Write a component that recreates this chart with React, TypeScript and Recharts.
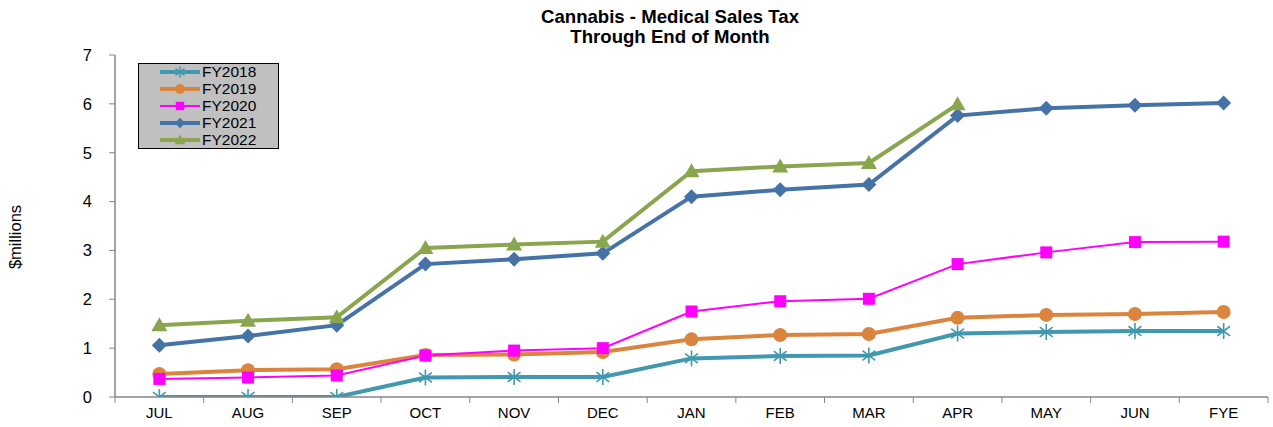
import React from 'react';
import { LineChart, Line, XAxis, YAxis } from 'recharts';

const months = ['JUL', 'AUG', 'SEP', 'OCT', 'NOV', 'DEC', 'JAN', 'FEB', 'MAR', 'APR', 'MAY', 'JUN', 'FYE'];
const fy2018 = [0, 0, 0, 0.4, 0.41, 0.41, 0.79, 0.84, 0.85, 1.3, 1.33, 1.35, 1.35];
const fy2019 = [0.47, 0.55, 0.57, 0.86, 0.87, 0.92, 1.18, 1.27, 1.29, 1.62, 1.68, 1.70, 1.74];
const fy2020 = [0.37, 0.40, 0.44, 0.85, 0.95, 1.0, 1.75, 1.96, 2.01, 2.72, 2.96, 3.17, 3.18];
const fy2021 = [1.06, 1.25, 1.47, 2.72, 2.82, 2.94, 4.10, 4.24, 4.35, 5.76, 5.91, 5.97, 6.02];
const fy2022 = [1.47, 1.56, 1.63, 3.05, 3.12, 3.18, 4.62, 4.72, 4.79, 5.99, null, null, null];
const yTicks = [0, 1, 2, 3, 4, 5, 6, 7];

const seriesDefs = [
  { key: 'FY2018', values: fy2018, color: '#4198AF', width: 4, shape: 'star' },
  { key: 'FY2019', values: fy2019, color: '#DB843D', width: 4, shape: 'circle' },
  { key: 'FY2020', values: fy2020, color: '#FF00FF', width: 2, shape: 'square' },
  { key: 'FY2021', values: fy2021, color: '#4572A7', width: 4, shape: 'diamond' },
  { key: 'FY2022', values: fy2022, color: '#89A54E', width: 4, shape: 'triangle' },
];

const data = months.map((m, i) => {
  const row: any = { month: m };
  seriesDefs.forEach((s) => { row[s.key] = s.values[i]; });
  return row;
});

const FONT = 'Arial, "Liberation Sans", sans-serif';
const W = 1273;
const H = 427;
const M = { top: 55, right: 5, bottom: 0, left: 75 };
const YW = 40;
const PLOT_W = W - M.left - M.right - YW;

function Marker({ shape, cx, cy, color, s = 1 }: any) {
  if (cx == null || cy == null || isNaN(cx) || isNaN(cy)) return null;
  switch (shape) {
    case 'star': {
      const r = 8 * s;
      const d = r * 0.8;
      return (
        <g stroke={color} strokeWidth={1.6}>
          <line x1={cx} y1={cy - r} x2={cx} y2={cy + r} />
          <line x1={cx - d} y1={cy - d * 0.75} x2={cx + d} y2={cy + d * 0.75} />
          <line x1={cx - d} y1={cy + d * 0.75} x2={cx + d} y2={cy - d * 0.75} />
        </g>
      );
    }
    case 'circle':
      return <circle cx={cx} cy={cy} r={7 * s} fill={color} />;
    case 'square':
      return <rect x={cx - 6 * s} y={cy - 6 * s} width={12 * s} height={12 * s} fill={color} />;
    case 'diamond': {
      const r = 7.5 * s;
      return <polygon points={`${cx},${cy - r} ${cx + r},${cy} ${cx},${cy + r} ${cx - r},${cy}`} fill={color} />;
    }
    case 'triangle': {
      const r = 8 * s;
      return <polygon points={`${cx},${cy - r} ${cx + r},${cy + r * 0.75} ${cx - r},${cy + r * 0.75}`} fill={color} />;
    }
    default:
      return null;
  }
}

const LegendBox = () => (
  <div
    style={{
      position: 'absolute',
      left: 138,
      top: 63,
      width: 141,
      height: 86,
      background: '#C0C0C0',
      border: '1px solid #000',
      boxSizing: 'border-box',
      fontFamily: FONT,
      fontSize: 15.5,
      color: '#000',
      paddingTop: 0,
    }}
  >
    {seriesDefs.map((s) => (
      <div key={s.key} style={{ display: 'flex', alignItems: 'center', height: 16.8 }}>
        <svg width={63} height={16} style={{ display: 'block', flex: 'none' }}>
          <line x1={21} y1={8} x2={61} y2={8} stroke={s.color} strokeWidth={s.width} />
          <Marker shape={s.shape} cx={41} cy={8} color={s.color} s={0.7} />
        </svg>
        <span style={{ lineHeight: '16px' }}>{s.key}</span>
      </div>
    ))}
  </div>
);

const step = PLOT_W / months.length;

const XTick = (props: any) => {
  const { x, y, payload, index } = props;
  const axisY = y - 8;
  return (
    <g>
      <line x1={x - step / 2} y1={axisY} x2={x - step / 2} y2={axisY + 6} stroke="#868686" strokeWidth={1} />
      {index === months.length - 1 && (
        <line x1={x + step / 2} y1={axisY} x2={x + step / 2} y2={axisY + 6} stroke="#868686" strokeWidth={1} />
      )}
      <text x={x} y={axisY + 21} textAnchor="middle" fontFamily={FONT} fontSize={15} fill="#000">
        {payload.value}
      </text>
    </g>
  );
};

export default function App() {
  return (
    <div style={{ position: 'absolute', left: 0, top: 0, width: W, height: H, background: '#fff' }}>
      <LineChart width={W} height={H} data={data} margin={M}>
        <text x={670} y={23} textAnchor="middle" fontFamily={FONT} fontSize={18.6} fontWeight="bold" fill="#000">
          Cannabis - Medical Sales Tax
        </text>
        <text x={670} y={43} textAnchor="middle" fontFamily={FONT} fontSize={18.6} fontWeight="bold" fill="#000">
          Through End of Month
        </text>
        <text
          x={21}
          y={237}
          textAnchor="middle"
          fontFamily={FONT}
          fontSize={16.5}
          fill="#000"
          transform="rotate(-90 21 237)"
        >
          $millions
        </text>
        <XAxis
          dataKey="month"
          scale="band"
          height={30}
          axisLine={{ stroke: '#868686', strokeWidth: 1.5 }}
          tickLine={false}
          tick={<XTick />}
          interval={0}
        />
        <YAxis
          width={YW}
          domain={[0, 7]}
          ticks={yTicks}
          allowDataOverflow
          axisLine={{ stroke: '#868686', strokeWidth: 1.5 }}
          tickLine={{ stroke: '#868686' }}
          tick={{ fontFamily: FONT, fontSize: 16.5, fill: '#000' }}
          tickSize={6}
          tickMargin={17}
        />
        {seriesDefs.map((s) => (
          <Line
            key={s.key}
            dataKey={s.key}
            type="linear"
            stroke={s.color}
            strokeWidth={s.width}
            isAnimationActive={false}
            connectNulls={false}
            activeDot={false}
            dot={(p: any) => <Marker key={`${s.key}-${p.index}`} shape={s.shape} cx={p.cx} cy={p.cy} color={s.color} />}
          />
        ))}
      </LineChart>
      <LegendBox />
    </div>
  );
}
